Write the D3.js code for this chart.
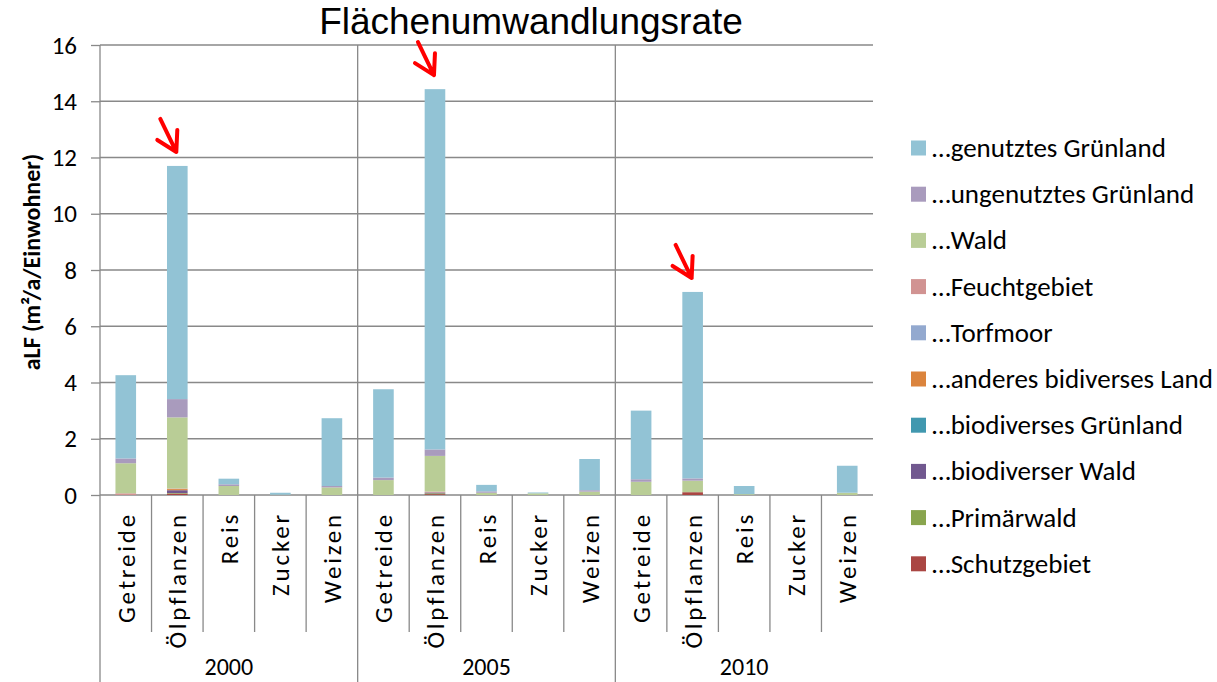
<!DOCTYPE html>
<html>
<head>
<meta charset="utf-8">
<script src="https://cdn.jsdelivr.net/npm/d3@7"></script>
<style>
  body { margin: 0; background: #fff; }
  svg { display: block; }
  text { fill: #000; }
</style>
</head>
<body>
<script>
// data
let years = ["2000", "2005", "2010"]
let crops = ["Getreide", "Ölpflanzen", "Reis", "Zucker", "Weizen"]
// series from bottom of the stack to top, values in year-major order (2000 x 5 crops, 2005 ..., 2010 ...)
let seriesNames = ["…Schutzgebiet", "…Primärwald", "…biodiverser Wald", "…biodiverses Grünland",
    "…anderes bidiverses Land", "…Torfmoor", "…Feuchtgebiet", "…Wald", "…ungenutztes Grünland", "…genutztes Grünland"]
let seriesColors = ["#AA4643", "#89A54E", "#71588F", "#4198AF", "#DB843D", "#93A9CF", "#D19392", "#B9CD96", "#A99BBD", "#92C3D5"]
let schutz      = [0, 0.05, 0, 0, 0,   0, 0.03, 0, 0, 0,      0, 0.10, 0, 0, 0]
let primaer     = [0, 0.02, 0, 0, 0,   0, 0.03, 0, 0, 0,      0, 0, 0, 0, 0]
let biodivWald  = [0, 0.10, 0, 0, 0,   0, 0.03, 0, 0, 0,      0, 0, 0, 0, 0]
let biodivGruen = [0, 0, 0, 0, 0,      0, 0, 0, 0, 0,         0, 0, 0, 0, 0]
let anderes     = [0, 0.04, 0, 0, 0,   0, 0, 0, 0, 0,         0, 0, 0, 0, 0]
let torfmoor    = [0, 0, 0, 0, 0,      0, 0, 0, 0, 0,         0, 0, 0, 0, 0]
let feucht      = [0.06, 0.02, 0, 0, 0, 0, 0.03, 0, 0, 0,     0, 0, 0, 0, 0]
let wald        = [1.07, 2.53, 0.32, 0.01, 0.27,  0.53, 1.27, 0.08, 0.06, 0.12,  0.47, 0.41, 0.03, 0, 0.08]
let ungenutzt   = [0.17, 0.65, 0.06, 0, 0.05,     0.09, 0.23, 0.05, 0, 0.05,     0.09, 0.08, 0, 0, 0]
let genutzt     = [2.96, 8.29, 0.20, 0.07, 2.41,  3.14, 12.81, 0.23, 0.03, 1.11, 2.44, 6.63, 0.29, 0, 0.96]
let seriesValues = [schutz, primaer, biodivWald, biodivGruen, anderes, torfmoor, feucht, wald, ungenutzt, genutzt]
let yTicks = [0, 2, 4, 6, 8, 10, 12, 14, 16]
let arrowTargets = [["2000", "Ölpflanzen"], ["2005", "Ölpflanzen"], ["2010", "Ölpflanzen"]]

let w = 1217, h = 682
let plotLeft = 100, plotRight = 873, plotTop = 45, plotBottom = 495
let font = "Carlito, Calibri, Lato, sans-serif"
let gridColor = "#898989"

let rows = []
years.forEach((yr, i) => crops.forEach((c, j) => {
    let row = {year: yr, crop: c}
    seriesNames.forEach((s, k) => row[s] = seriesValues[k][i * crops.length + j])
    rows.push(row)
}))
let stacked = d3.stack().keys(seriesNames)(rows)
let total = (yr, c) => d3.sum(seriesValues, v => v[years.indexOf(yr) * crops.length + crops.indexOf(c)])

let svg = d3.select("body").append("svg").attr("width", w).attr("height", h)

let xYear = d3.scaleBand().domain(years).range([plotLeft, plotRight])
let xCrop = d3.scaleBand().domain(crops).range([0, xYear.bandwidth()]).paddingInner(0.6).paddingOuter(0.3)
let y = d3.scaleLinear().domain([0, 16]).range([plotBottom, plotTop])

// gridlines
svg.append("g").selectAll("line").data(yTicks).enter().append("line")
    .attr("x1", plotLeft).attr("x2", plotRight)
    .attr("y1", d => y(d)).attr("y2", d => y(d))
    .attr("stroke", gridColor).attr("stroke-width", 1.3)

// y axis
let yAxis = d3.axisLeft(y).tickValues(yTicks).tickSize(9).tickPadding(14)
let yg = svg.append("g").attr("transform", "translate(" + plotLeft + ",0)").call(yAxis)
yg.select(".domain").remove()
yg.selectAll(".tick line").attr("stroke", gridColor).attr("stroke-width", 1.3)
yg.selectAll(".tick text").attr("font-family", font).attr("font-size", 25).attr("fill", "#000")

// category separators
let slotEdges = []
years.forEach(yr => crops.forEach((c, j) => { if (j > 0) slotEdges.push(xYear(yr) + xCrop.step() * j) }))
svg.append("g").selectAll("line").data(slotEdges).enter().append("line")
    .attr("x1", d => d).attr("x2", d => d).attr("y1", plotBottom).attr("y2", 632)
    .attr("stroke", gridColor).attr("stroke-width", 1.3)
let groupEdges = years.slice(1).map(yr => xYear(yr))
svg.append("g").selectAll("line").data(groupEdges).enter().append("line")
    .attr("x1", d => d).attr("x2", d => d).attr("y1", plotTop).attr("y2", h)
    .attr("stroke", gridColor).attr("stroke-width", 1.3)
svg.append("line").attr("x1", plotLeft).attr("x2", plotLeft).attr("y1", plotTop).attr("y2", h)
    .attr("stroke", gridColor).attr("stroke-width", 1.3)

// bars
svg.append("g").selectAll("g").data(stacked).enter().append("g")
    .attr("fill", (d, i) => seriesColors[i])
    .selectAll("rect").data(d => d).enter().append("rect")
    .attr("x", d => xYear(d.data.year) + xCrop(d.data.crop))
    .attr("width", xCrop.bandwidth())
    .attr("y", d => y(d[1]))
    .attr("height", d => y(d[0]) - y(d[1]))

// crop labels
svg.append("g").selectAll("text").data(rows).enter().append("text")
    .attr("transform", d => "translate(" + (xYear(d.year) + xCrop(d.crop) + xCrop.bandwidth() / 2 + 9) + ",512) rotate(-90)")
    .attr("text-anchor", "end")
    .attr("font-family", font).attr("font-size", 25).attr("letter-spacing", 2.8)
    .text(d => d.crop)

// year labels
svg.append("g").selectAll("text").data(years).enter().append("text")
    .attr("x", d => xYear(d) + xYear.bandwidth() / 2).attr("y", 675)
    .attr("text-anchor", "middle")
    .attr("font-family", font).attr("font-size", 24)
    .text(d => d)

// title
svg.append("text").attr("x", 531).attr("y", 34).attr("text-anchor", "middle")
    .attr("font-family", "Liberation Sans, Arial, sans-serif").attr("font-size", 37)
    .text("Flächenumwandlungsrate")

// y title
svg.append("text").attr("transform", "translate(40,262) rotate(-90)").attr("text-anchor", "middle")
    .attr("font-family", font).attr("font-size", 24).attr("font-weight", "bold")
    .text("aLF (m²/a/Einwohner)")

// legend, top item = top of stack
let legend = svg.append("g").selectAll("g").data(seriesNames.slice().reverse()).enter().append("g")
    .attr("transform", (d, i) => "translate(911," + (148 + i * 46.2) + ")")
legend.append("rect").attr("x", 0).attr("y", -7.5).attr("width", 15).attr("height", 15)
    .attr("fill", d => seriesColors[seriesNames.indexOf(d)])
legend.append("text").attr("x", 21).attr("y", 9)
    .attr("font-family", font).attr("font-size", 27)
    .text(d => d)

// red arrows pointing at the oil crop bars
let arrows = svg.append("g").selectAll("g").data(arrowTargets).enter().append("g")
    .attr("transform", d => "translate(" + (xYear(d[0]) + xCrop(d[1]) + xCrop.bandwidth() / 2 - 1) + "," + (y(total(d[0], d[1])) - 14) + ")")
arrows.append("path")
    .attr("d", "M-16,-33 L0,0 M-19,-12 L0,0 L1,-22")
    .attr("fill", "none").attr("stroke", "#ff0000").attr("stroke-width", 4)
    .attr("stroke-linecap", "round").attr("stroke-linejoin", "round")
</script>
</body>
</html>
